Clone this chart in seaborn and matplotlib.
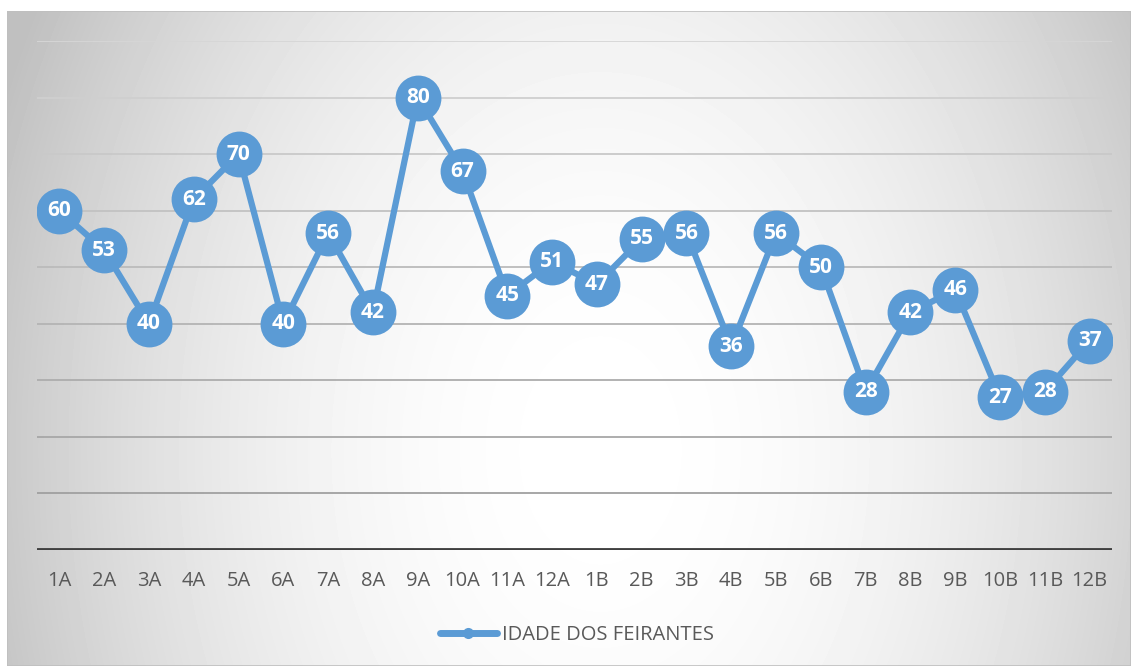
import numpy as np
import pandas as pd
import matplotlib
matplotlib.use("Agg")
import matplotlib.pyplot as plt
from matplotlib.lines import Line2D
from matplotlib.patches import Rectangle
import seaborn as sns

# ---------- data ----------
categories = ["1A", "2A", "3A", "4A", "5A", "6A", "7A", "8A", "9A", "10A", "11A", "12A",
              "1B", "2B", "3B", "4B", "5B", "6B", "7B", "8B", "9B", "10B", "11B", "12B"]
ages = [60, 53, 40, 62, 70, 40, 56, 42, 80, 67, 45, 51,
        47, 55, 56, 36, 56, 50, 28, 42, 46, 27, 28, 37]
series_name = "IDADE DOS FEIRANTES"
y_ticks = [0, 10, 20, 30, 40, 50, 60, 70, 80, 90]

BLUE = "#5B9BD5"
TEXT_GREY = "#595959"

sns.set_theme(style="white")
plt.rcParams["font.family"] = ["Open Sans", "DejaVu Sans"]

W, H = 1131, 666
fig = plt.figure(figsize=(W / 100, H / 100), dpi=100)
fig.patch.set_facecolor("white")

# ---------- radial-ish grey background of the chart area ----------
bg = fig.add_axes([7 / W, 0, (W - 7) / W, (H - 11) / H])
gx, gy = np.meshgrid(np.arange(7, W), np.arange(11, H))
f = ((gx - 600) / 640.0) ** 2 + ((gy - 450) / 900.0) ** 2
shade = np.clip(255 - 62 * f, 192, 255) / 255.0
bg.imshow(shade, cmap="gray", vmin=0, vmax=1, aspect="auto", interpolation="bilinear")
bg.set_axis_off()
bg.add_patch(Rectangle((0, 0), 1, 1, transform=bg.transAxes, fill=False,
                       edgecolor="#bfbfbf", linewidth=1.2))

# ---------- main plot ----------
ax = fig.add_axes([37 / W, 116 / H, 1075 / W, 509 / H])
ax.set_facecolor("none")

df = pd.DataFrame({"cat": categories, "age": ages})

# gridlines: lighter towards the top, darker towards the bottom
for val in y_ticks[1:]:
    g = 0.84 - 0.24 * (1 - val / 90)
    ax.axhline(val, color=(g, g, g), linewidth=1.3, zorder=1)
ax.axhline(0, color="#404040", linewidth=3.5, zorder=2)

sns.lineplot(data=df, x="cat", y="age", sort=False, color=BLUE, linewidth=4.5,
             marker="o", markersize=33, markeredgewidth=0, ax=ax, zorder=3,
             legend=False)

for i, v in enumerate(ages):
    ax.text(i, v, str(v), ha="center", va="center", color="white",
            fontsize=15, fontweight="bold", zorder=4)

ax.set_xlim(-0.5, len(categories) - 0.5)
ax.set_ylim(0, 90)
ax.set_yticks([])
ax.set_xticks(range(len(categories)))
ax.set_xticklabels(categories, fontsize=14.5, color=TEXT_GREY)
ax.tick_params(axis="x", length=0, pad=15)
ax.set_xlabel("")
ax.set_ylabel("")
for s in ax.spines.values():
    s.set_visible(False)

handle = Line2D([], [], color=BLUE, linewidth=5, marker="o", markersize=8,
                markeredgewidth=0, solid_capstyle="round")
fig.legend([handle], [series_name], loc="center",
           bbox_to_anchor=(577 / W, 1 - 635 / H), frameon=False,
           fontsize=14.5, labelcolor=TEXT_GREY, handlelength=2.8,
           handletextpad=0.25)

fig.savefig("out.png", dpi=100, facecolor="white")
